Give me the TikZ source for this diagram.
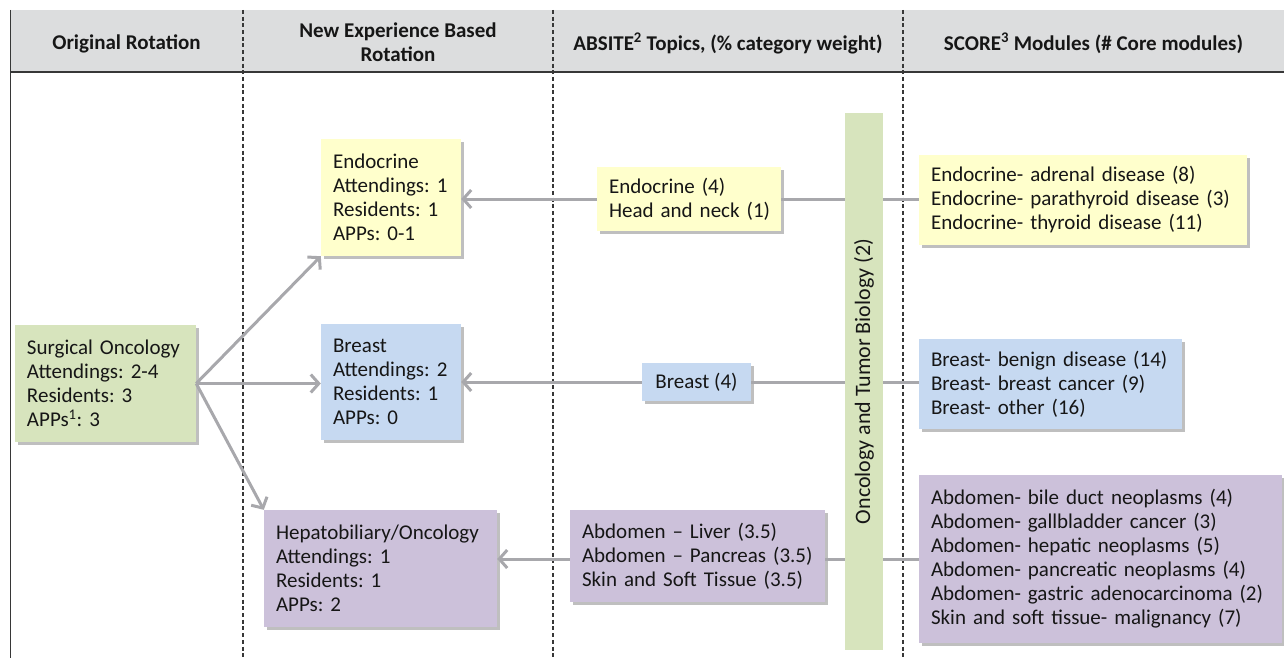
\documentclass[tikz,border=0pt]{standalone}
\usepackage{fontspec}
\setmainfont{Carlito}
\usetikzlibrary{arrows.meta,shadows}
\definecolor{headgray}{RGB}{220,221,222}
\definecolor{cgreen}{RGB}{215,228,189}
\definecolor{cyellow}{RGB}{255,255,204}
\definecolor{cblue}{RGB}{198,217,241}
\definecolor{cpurple}{RGB}{204,193,218}
\definecolor{argray}{RGB}{168,168,172}
\definecolor{txt}{RGB}{22,22,22}
\definecolor{rule}{RGB}{55,55,55}
\frenchspacing
\begin{document}
\begin{tikzpicture}[x=1pt,y=-1pt,
  every node/.style={text=txt},
  basefont/.style={font=\fontsize{21}{24}\selectfont\frenchspacing},
  headtext/.style={font=\bfseries\fontsize{21}{24}\selectfont\frenchspacing, align=center, inner sep=0pt},
  box/.style={basefont, inner xsep=12pt, inner ysep=0pt, align=left,
    drop shadow={shadow xshift=2.5pt, shadow yshift=-2.5pt, fill=black, opacity=0.25}},
  bx/.style n args={2}{box, minimum width=#1pt, minimum height=#2pt, text width=#1pt-24pt},
  conn/.style={draw=argray, line width=3pt},
  arr/.style={conn, -{Straight Barb[length=8pt,width=18pt,line width=3pt]}},
  coldash/.style={draw=rule, line width=1.1pt, dash pattern=on 4pt off 2.7pt}
]
\useasboundingbox (0,0) rectangle (1284,658);
% header band
\fill[headgray] (10,10) rectangle (1284,72);
\draw[rule, line width=1.4pt] (10,72) -- (1284,72);
\draw[rule, line width=1.4pt] (10.5,10) -- (10.5,658);
\foreach \xx in {243,553,903} \draw[coldash] (\xx,10) -- (\xx,658);
\node[headtext] (h1) at (126.5,43.5) {Original Rotation};
\node[headtext] (h2) at (398,42) {New Experience Based\\Rotation};
\node[headtext] (h3) at (728,43.5) {ABSITE\textsuperscript{2} Topics, (\% category weight)};
\node[headtext] (h4) at (1093.5,43.5) {SCORE\textsuperscript{3} Modules (\# Core modules)};

% column 1
\node[bx={181}{117}, fill=cgreen] (orig) at (105.5,383.5)
  {Surgical~Oncology\\Attendings:~2-4\\Residents:~3\\APPs\textsuperscript{1}:~3};
% column 2
\node[bx={140}{117}, fill=cyellow] (endo) at (391,197.5)
  {Endocrine\\Attendings:~1\\Residents:~1\\APPs:~0-1};
\node[bx={140}{116}, fill=cblue] (breast) at (391,382)
  {Breast\\Attendings:~2\\Residents:~1\\APPs:~0};
\node[bx={233}{117}, fill=cpurple] (hep) at (380.5,568.5)
  {Hepatobiliary/Oncology\\Attendings:~1\\Residents:~1\\APPs:~2};
% column 3
\node[bx={184}{64}, fill=cyellow] (endo4) at (689,199)
  {Endocrine~(4)\\Head~and~neck~(1)};
\node[box, fill=cblue, minimum width=109pt, minimum height=38pt, align=center] (breast4) at (696.5,382)
  {Breast~(4)};
\node[bx={255}{92}, fill=cpurple] (abd) at (697.5,556)
  {Abdomen~--~Liver~(3.5)\\Abdomen~--~Pancreas~(3.5)\\Skin~and~Soft~Tissue~(3.5)};
\node[fill=cgreen, minimum width=38pt, minimum height=537pt, inner sep=0pt] (bar) at (864,381.5) {};
\node[font=\fontsize{22}{24}\selectfont, rotate=90, inner sep=0pt] (bartext) at (bar.center) {Oncology and Tumor Biology (2)};
% column 4
\node[bx={328}{90}, fill=cyellow] (sendo) at (1083,200)
  {Endocrine-~adrenal~disease~(8)\\Endocrine-~parathyroid~disease~(3)\\Endocrine-~thyroid~disease~(11)};
\node[bx={263}{90}, fill=cblue] (sbreast) at (1050.5,384)
  {Breast-~benign~disease~(14)\\Breast-~breast~cancer~(9)\\Breast-~other~(16)};
\node[bx={363}{168}, fill=cpurple] (sabd) at (1100.5,559)
  {Abdomen-~bile~duct~neoplasms~(4)\\Abdomen-~gallbladder~cancer~(3)\\Abdomen-~hepatic~neoplasms~(5)\\Abdomen-~pancreatic~neoplasms~(4)\\Abdomen-~gastric~adenocarcinoma~(2)\\Skin~and~soft~tissue-~malignancy~(7)};

% connectors from original rotation
\draw[arr] (orig.east) -- (endo.south west);
\draw[arr] (orig.east) -- (orig.east -| breast.west);
\draw[arr] (orig.east) -- (hep.north west);
% row 1
\draw[conn] (sendo.west |- endo4.east) -- (bar.east |- endo4.east);
\draw[conn] (bar.west |- endo4.east) -- (endo4.east);
\draw[arr] (endo4.west) -- (endo.east |- endo4.west);
% row 2
\draw[conn] (sbreast.west |- breast4.east) -- (bar.east |- breast4.east);
\draw[conn] (bar.west |- breast4.east) -- (breast4.east);
\draw[arr] (breast4.west) -- (breast.east |- breast4.west);
% row 3
\draw[conn] (sabd.west) -- (bar.east |- sabd.west);
\draw[conn] (bar.west |- sabd.west) -- (abd.east |- sabd.west);
\draw[arr] (abd.west |- sabd.west) -- (hep.east |- sabd.west);
\end{tikzpicture}
\end{document}
